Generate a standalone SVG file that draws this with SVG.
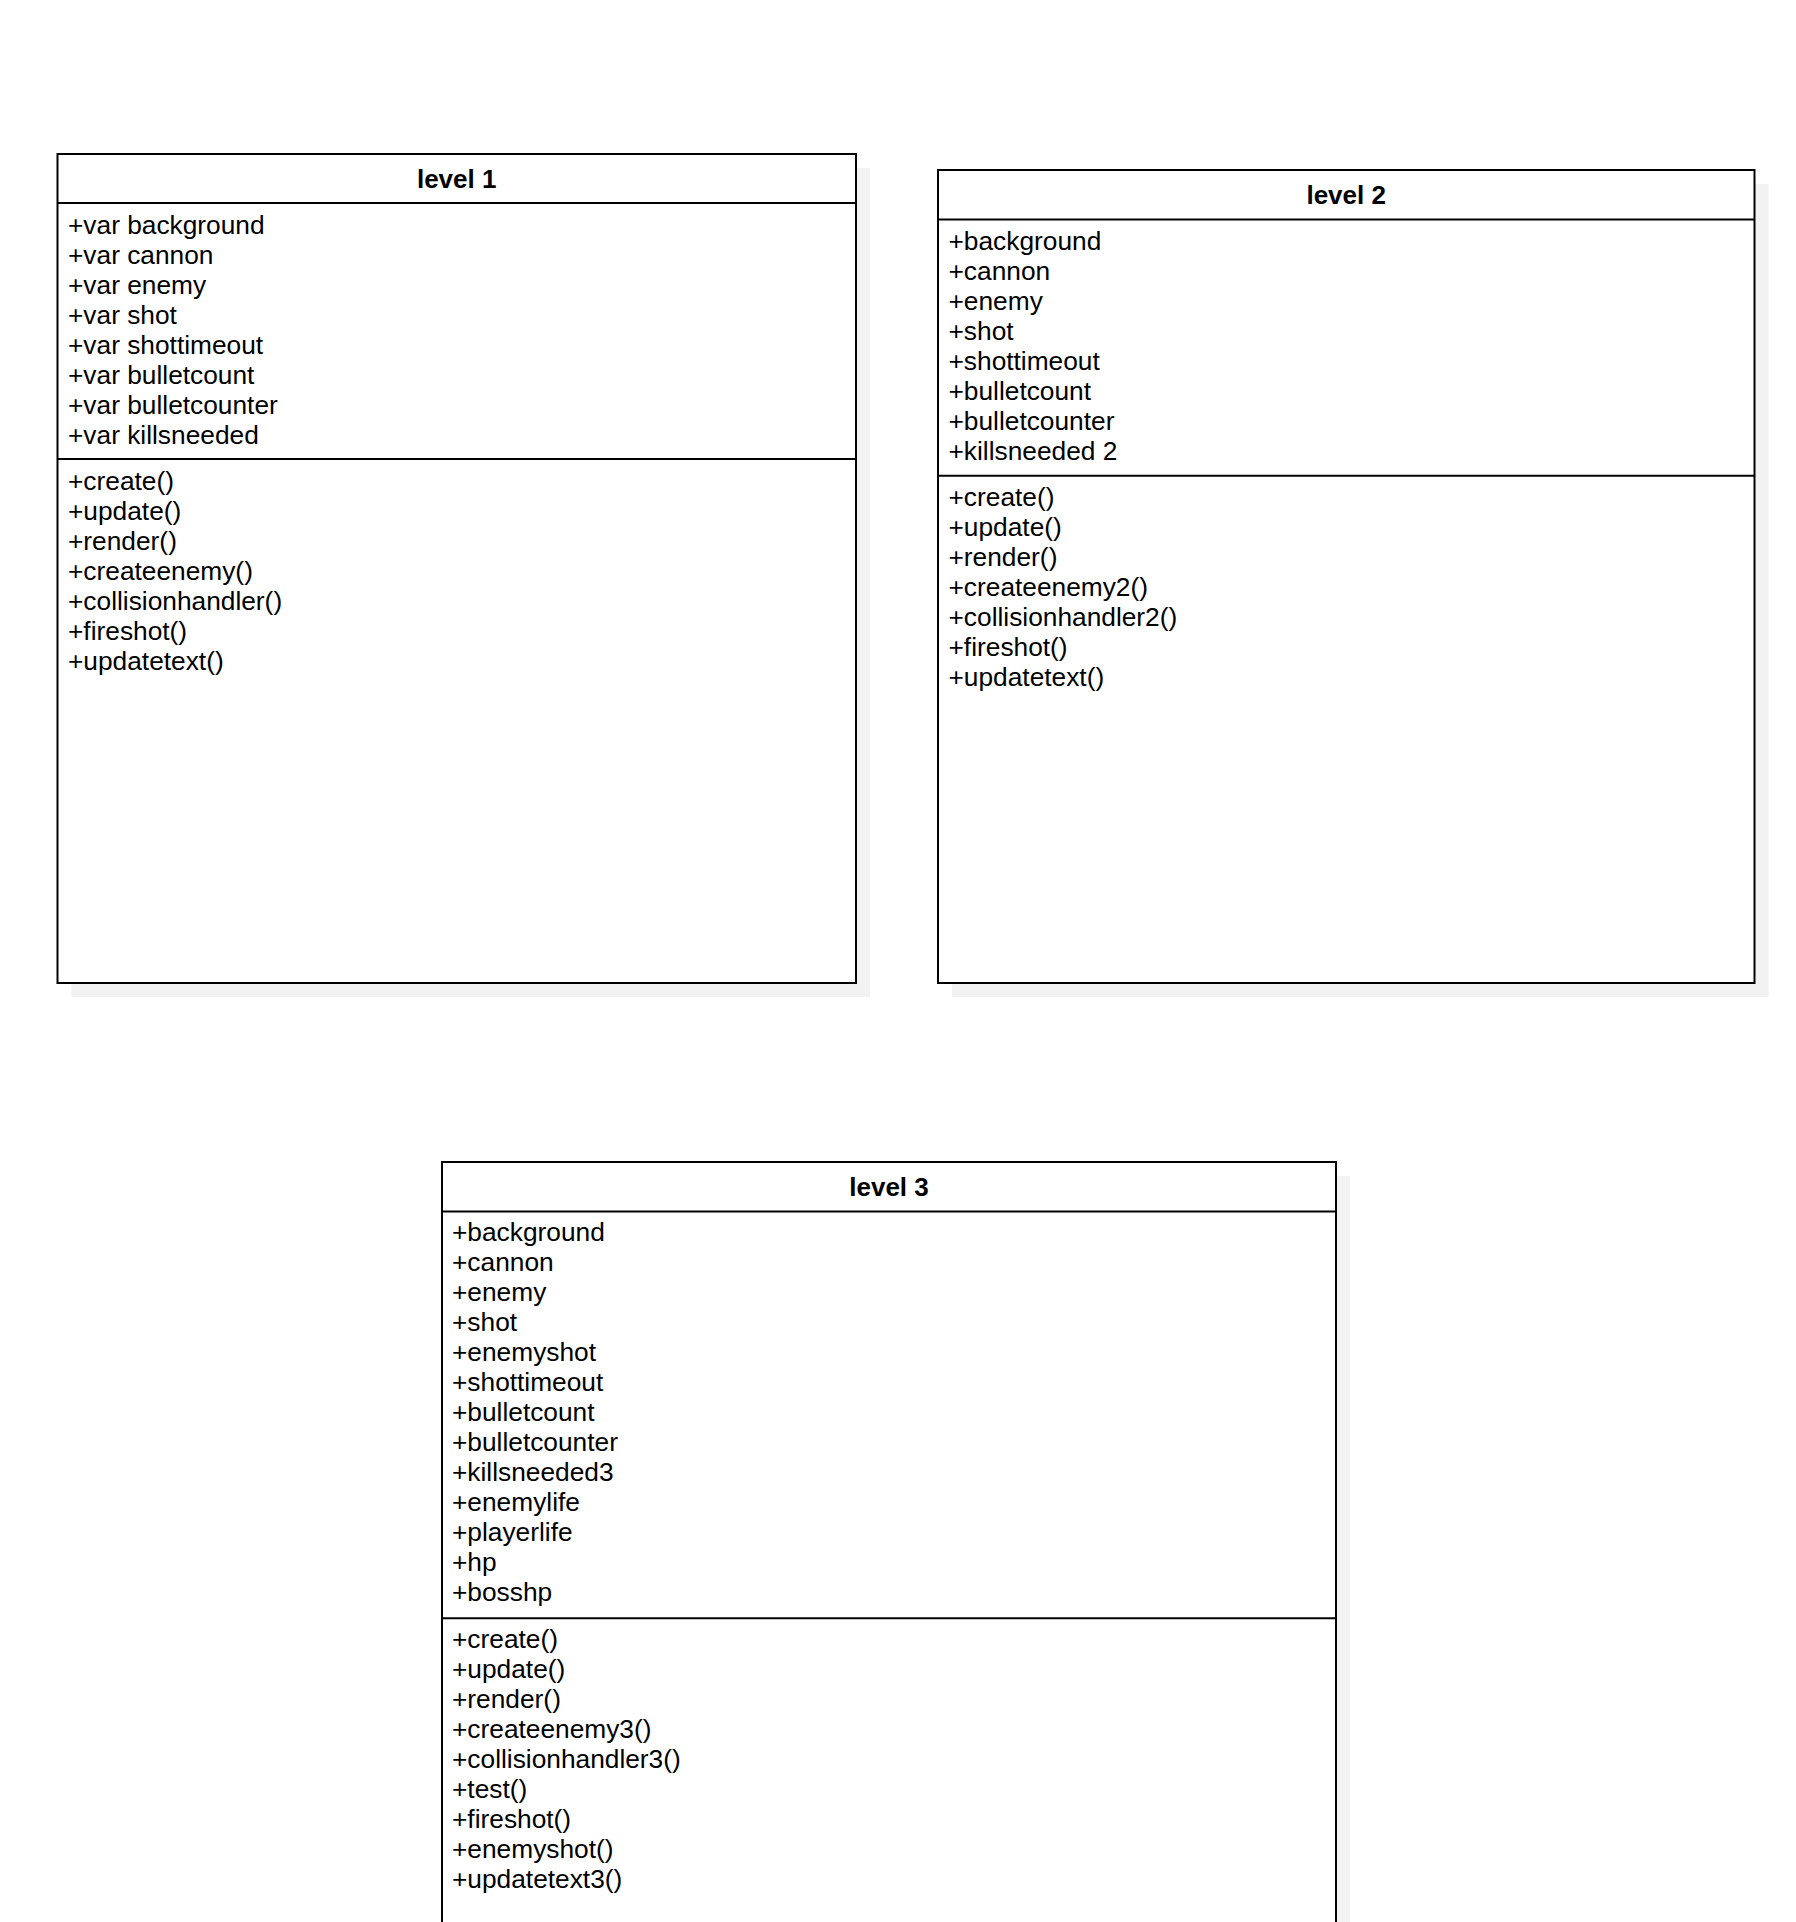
<svg xmlns="http://www.w3.org/2000/svg" width="1796" height="1922" viewBox="0 0 1796 1922">
<style>
.shadow{fill:#f2f2f2;stroke:none}
.box{fill:#ffffff;stroke:#000000;stroke-width:2}
.line{stroke:#000000;stroke-width:2;fill:none}
.title{font-family:"Liberation Sans",Arial,sans-serif;font-size:26px;font-weight:bold;fill:#000000;text-anchor:middle}
.item{font-family:"Liberation Sans",Arial,sans-serif;font-size:26.3px;fill:#000000}
</style>
<rect width="1796" height="1922" fill="#ffffff"/>
<g id="level1">
<rect class="shadow" x="71.5" y="168" width="798.5" height="829"/>
<rect class="box" x="57.5" y="154" width="798.5" height="829"/>
<line class="line" x1="57.5" y1="203" x2="856" y2="203"/>
<line class="line" x1="57.5" y1="459" x2="856" y2="459"/>
<text class="title" x="456.7" y="187.5">level 1</text>
<text class="item" x="68" y="234.3"><tspan x="68">+var background</tspan><tspan x="68" dy="30">+var cannon</tspan><tspan x="68" dy="30">+var enemy</tspan><tspan x="68" dy="30">+var shot</tspan><tspan x="68" dy="30">+var shottimeout</tspan><tspan x="68" dy="30">+var bulletcount</tspan><tspan x="68" dy="30">+var bulletcounter</tspan><tspan x="68" dy="30">+var killsneeded</tspan></text>
<text class="item" x="68" y="490"><tspan x="68">+create()</tspan><tspan x="68" dy="30">+update()</tspan><tspan x="68" dy="30">+render()</tspan><tspan x="68" dy="30">+createenemy()</tspan><tspan x="68" dy="30">+collisionhandler()</tspan><tspan x="68" dy="30">+fireshot()</tspan><tspan x="68" dy="30">+updatetext()</tspan></text>
</g>
<g id="level2">
<rect class="shadow" x="952" y="184" width="816.5" height="813"/>
<rect class="box" x="938" y="170" width="816.5" height="813"/>
<line class="line" x1="938" y1="219.5" x2="1754.5" y2="219.5"/>
<line class="line" x1="938" y1="475.7" x2="1754.5" y2="475.7"/>
<text class="title" x="1346.2" y="204">level 2</text>
<text class="item" x="948.5" y="250.3"><tspan x="948.5">+background</tspan><tspan x="948.5" dy="30">+cannon</tspan><tspan x="948.5" dy="30">+enemy</tspan><tspan x="948.5" dy="30">+shot</tspan><tspan x="948.5" dy="30">+shottimeout</tspan><tspan x="948.5" dy="30">+bulletcount</tspan><tspan x="948.5" dy="30">+bulletcounter</tspan><tspan x="948.5" dy="30">+killsneeded 2</tspan></text>
<text class="item" x="948.5" y="505.7"><tspan x="948.5">+create()</tspan><tspan x="948.5" dy="30">+update()</tspan><tspan x="948.5" dy="30">+render()</tspan><tspan x="948.5" dy="30">+createenemy2()</tspan><tspan x="948.5" dy="30">+collisionhandler2()</tspan><tspan x="948.5" dy="30">+fireshot()</tspan><tspan x="948.5" dy="30">+updatetext()</tspan></text>
</g>
<g id="level3">
<rect class="shadow" x="456" y="1176" width="894" height="800"/>
<rect class="box" x="442" y="1162" width="894" height="800"/>
<line class="line" x1="442" y1="1211.5" x2="1336" y2="1211.5"/>
<line class="line" x1="442" y1="1618.3" x2="1336" y2="1618.3"/>
<text class="title" x="889" y="1196">level 3</text>
<text class="item" x="452" y="1241"><tspan x="452">+background</tspan><tspan x="452" dy="30">+cannon</tspan><tspan x="452" dy="30">+enemy</tspan><tspan x="452" dy="30">+shot</tspan><tspan x="452" dy="30">+enemyshot</tspan><tspan x="452" dy="30">+shottimeout</tspan><tspan x="452" dy="30">+bulletcount</tspan><tspan x="452" dy="30">+bulletcounter</tspan><tspan x="452" dy="30">+killsneeded3</tspan><tspan x="452" dy="30">+enemylife</tspan><tspan x="452" dy="30">+playerlife</tspan><tspan x="452" dy="30">+hp</tspan><tspan x="452" dy="30">+bosshp</tspan></text>
<text class="item" x="452" y="1648"><tspan x="452">+create()</tspan><tspan x="452" dy="30">+update()</tspan><tspan x="452" dy="30">+render()</tspan><tspan x="452" dy="30">+createenemy3()</tspan><tspan x="452" dy="30">+collisionhandler3()</tspan><tspan x="452" dy="30">+test()</tspan><tspan x="452" dy="30">+fireshot()</tspan><tspan x="452" dy="30">+enemyshot()</tspan><tspan x="452" dy="30">+updatetext3()</tspan></text>
</g>
<g id="connectors"></g>
</svg>
